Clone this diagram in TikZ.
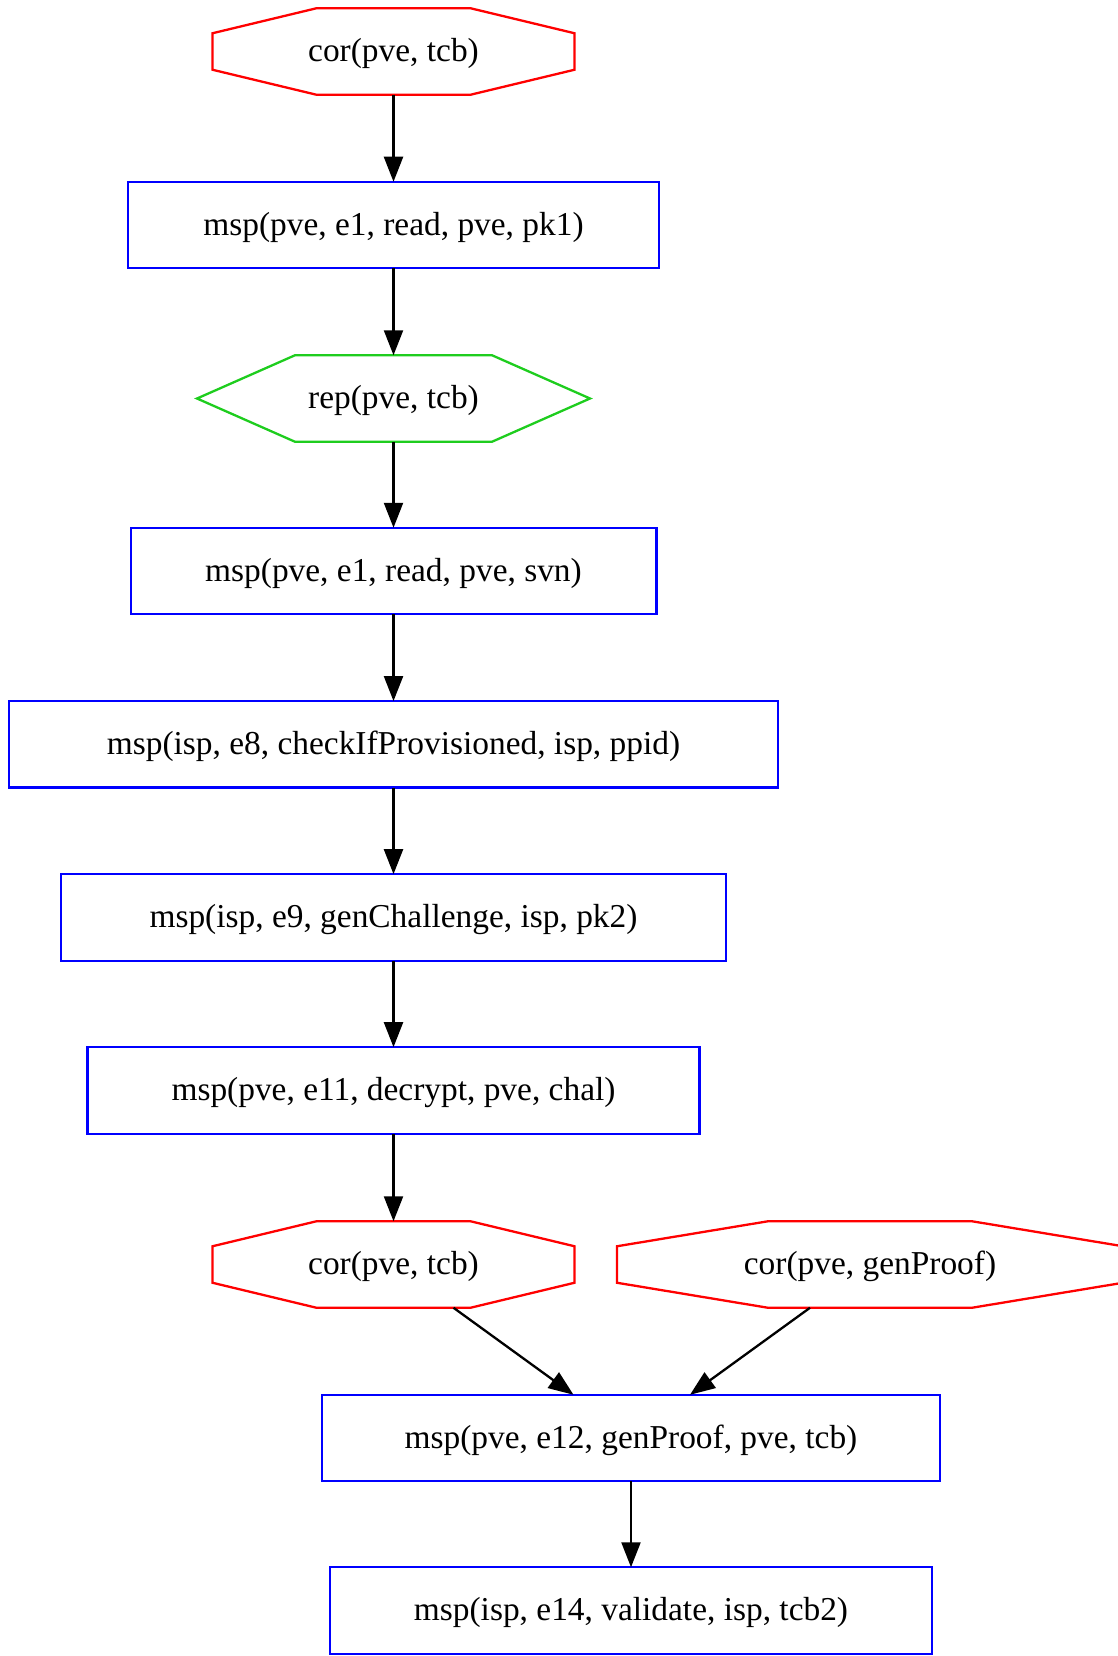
\documentclass[tikz,border=0pt]{standalone}
\usepackage{fontspec}
\setmainfont{Liberation Serif}
\usetikzlibrary{calc,arrows.meta}

% Trace an octagon inside the bounding rectangle of node #1:
% #2 = horizontal inset of the top/bottom edges, #3 = vertical inset of the side edges
\newcommand\drawocta[3]{%
  \draw[corline] ($(#1.north west)+(#2,0)$) -- ($(#1.north east)+(-#2,0)$)
    -- ($(#1.north east)+(0,#3)$) -- ($(#1.south east)+(0,-#3)$)
    -- ($(#1.south east)+(-#2,0)$) -- ($(#1.south west)+(#2,0)$)
    -- ($(#1.south west)+(0,-#3)$) -- ($(#1.north west)+(0,#3)$) -- cycle;}

\definecolor{cordred}{RGB}{255,0,0}
\definecolor{mspblue}{RGB}{0,0,255}
\definecolor{repgreen}{RGB}{30,205,30}

\begin{document}
\begin{tikzpicture}[x=1pt,y=-1pt,
  font=\fontsize{33.4}{40}\selectfont,
  label/.style={inner sep=0pt,outer sep=0pt,minimum height=86.5pt,
    text height=23pt,text depth=3pt},
  mspbox/.style={label,draw=mspblue,line width=2.3pt},
  shapebox/.style={label,draw=none},
  corline/.style={draw=cordred,line width=2.3pt,line join=miter},
  repline/.style={draw=repgreen,line width=2.3pt,line join=miter},
  edge/.style={draw=black,line width=2.3pt,-{Triangle[length=25pt,width=19pt]}}]

\useasboundingbox (0,0) rectangle (1118,1656);

% nodes of the chain
\node[shapebox,minimum width=362pt] (cor1) at (393.5,51.5) {cor(pve, tcb)};
\node[mspbox,minimum width=531pt]  (m1) at (393.5,225) {msp(pve, e1, read, pve, pk1)};
\node[shapebox,minimum width=393pt] (rep) at (393.5,398.5) {rep(pve, tcb)};
\node[mspbox,minimum width=525.7pt] (m2) at (393.5,571) {msp(pve, e1, read, pve, svn)};
\node[mspbox,minimum width=768.6pt] (m3) at (393.5,744.3) {msp(isp, e8, checkIfProvisioned, isp, ppid)};
\node[mspbox,minimum width=665pt]  (m4) at (393.5,917.4) {msp(isp, e9, genChallenge, isp, pk2)};
\node[mspbox,minimum width=612pt]  (m5) at (393.5,1090.4) {msp(pve, e11, decrypt, pve, chal)};
\node[shapebox,minimum width=362pt] (cor2) at (393.5,1264.5) {cor(pve, tcb)};
\node[shapebox,minimum width=506pt] (cor3) at (870,1264.5) {cor(pve, genProof)};
\node[mspbox,minimum width=618.6pt] (m6) at (631,1438) {msp(pve, e12, genProof, pve, tcb)};
\node[mspbox,minimum width=601.8pt] (m7) at (631,1610.5) {msp(isp, e14, validate, isp, tcb2)};

% outlines of the octagons and the hexagon
\drawocta{cor1}{104}{25}
\drawocta{cor2}{104}{25}
\drawocta{cor3}{151}{25}
\draw[repline] ($(rep.north west)+(98,0)$) -- ($(rep.north east)+(-98,0)$) -- (rep.east)
  -- ($(rep.south east)+(-98,0)$) -- ($(rep.south west)+(98,0)$) -- (rep.west) -- cycle;

% connectors
\draw[edge] (cor1.south) -- (m1.north);
\draw[edge] (m1.south) -- (rep.north);
\draw[edge] (rep.south) -- (m2.north);
\draw[edge] (m2.south) -- (m3.north);
\draw[edge] (m3.south) -- (m4.north);
\draw[edge] (m4.south) -- (m5.north);
\draw[edge] (m5.south) -- (cor2.north);
\draw[edge] ($(cor2.south)+(60,0)$) -- ($(m6.north)+(-57.5,0)$);
\draw[edge] ($(cor3.south)+(-60,0)$) -- ($(m6.north)+(59,0)$);
\draw[edge] (m6.south) -- (m7.north);
\end{tikzpicture}
\end{document}
